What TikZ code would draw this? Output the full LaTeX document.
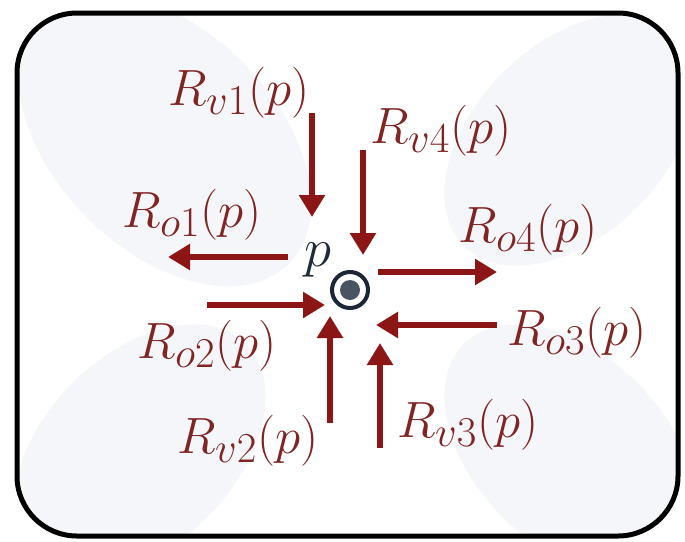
\documentclass[tikz,border=0pt]{standalone}
\usepackage{graphicx}
\usetikzlibrary{arrows.meta}
\definecolor{arrred}{RGB}{140,22,22}
\definecolor{txtred}{RGB}{128,36,36}
\definecolor{ringc}{RGB}{28,38,55}
\definecolor{dotc}{RGB}{72,84,98}
\definecolor{pcol}{RGB}{30,42,55}
\definecolor{blob}{RGB}{245,246,249}
\newcommand{\rlab}[1]{\scalebox{2.05}{\Huge$R_{#1}(p)$}}
\tikzset{
  lab/.style={anchor=base west, inner sep=0pt, text=txtred},
  rarrow/.style={draw=arrred, line width=5.5pt, -{Triangle[length=22pt,width=25pt]}},
  frame/.style={draw=black, line width=5pt, rounded corners=60pt}
}
\begin{document}
\begin{tikzpicture}[x=1pt,y=-1pt]
\useasboundingbox (0,0) rectangle (685,541);
\fill[white] (0,0) rectangle (685,541);
\begin{scope}
\clip[rounded corners=60pt] (17,13) rectangle (678,536);
\fill[blob] (165,140) ellipse[x radius=175, y radius=110, rotate=-45];
\fill[blob] (570,140) ellipse[x radius=150, y radius=95, rotate=45];
\fill[blob] (140,450) ellipse[x radius=150, y radius=95, rotate=45];
\fill[blob] (570,450) ellipse[x radius=150, y radius=95, rotate=-45];
\end{scope}
\draw[frame] (17,13) rectangle (678,536);

% center point
\node[circle, draw=ringc, line width=4pt, minimum size=36pt, inner sep=0pt] (c) at (350,290) {};
\fill[dotc] (c.center) circle (10pt);
\node[anchor=base west, inner sep=0pt, text=pcol] (p) at (304,266) {\scalebox{2.2}{\Huge$p$}};

% labels
\node[lab] (rv1) at (168,105) {\rlab{v1}};
\node[lab] (rv4) at (370,143) {\rlab{v4}};
\node[lab] (ro1) at (122,227) {\rlab{o1}};
\node[lab] (ro4) at (458,242) {\rlab{o4}};
\node[lab] (ro2) at (137,358) {\rlab{o2}};
\node[lab] (ro3) at (507,345) {\rlab{o3}};
\node[lab] (rv2) at (177,453) {\rlab{v2}};
\node[lab] (rv3) at (397,437) {\rlab{v3}};

% arrow ends
\coordinate (a1s) at (312,113); \coordinate (a1e) at (312,217);
\coordinate (a4s) at (363,150); \coordinate (a4e) at (363,255);
\coordinate (b1s) at (288,257); \coordinate (b1e) at (168,257);
\coordinate (b4s) at (378,272); \coordinate (b4e) at (497,272);
\coordinate (b2s) at (207,305); \coordinate (b2e) at (325,305);
\coordinate (b3s) at (497,325); \coordinate (b3e) at (376,325);
\coordinate (a2s) at (330,423); \coordinate (a2e) at (330,316);
\coordinate (a3s) at (380,448); \coordinate (a3e) at (380,343);

\draw[rarrow] (a1s) -- (a1e);
\draw[rarrow] (a4s) -- (a4e);
\draw[rarrow] (b1s) -- (b1e);
\draw[rarrow] (b4s) -- (b4e);
\draw[rarrow] (b2s) -- (b2e);
\draw[rarrow] (b3s) -- (b3e);
\draw[rarrow] (a2s) -- (a2e);
\draw[rarrow] (a3s) -- (a3e);
\end{tikzpicture}
\end{document}
